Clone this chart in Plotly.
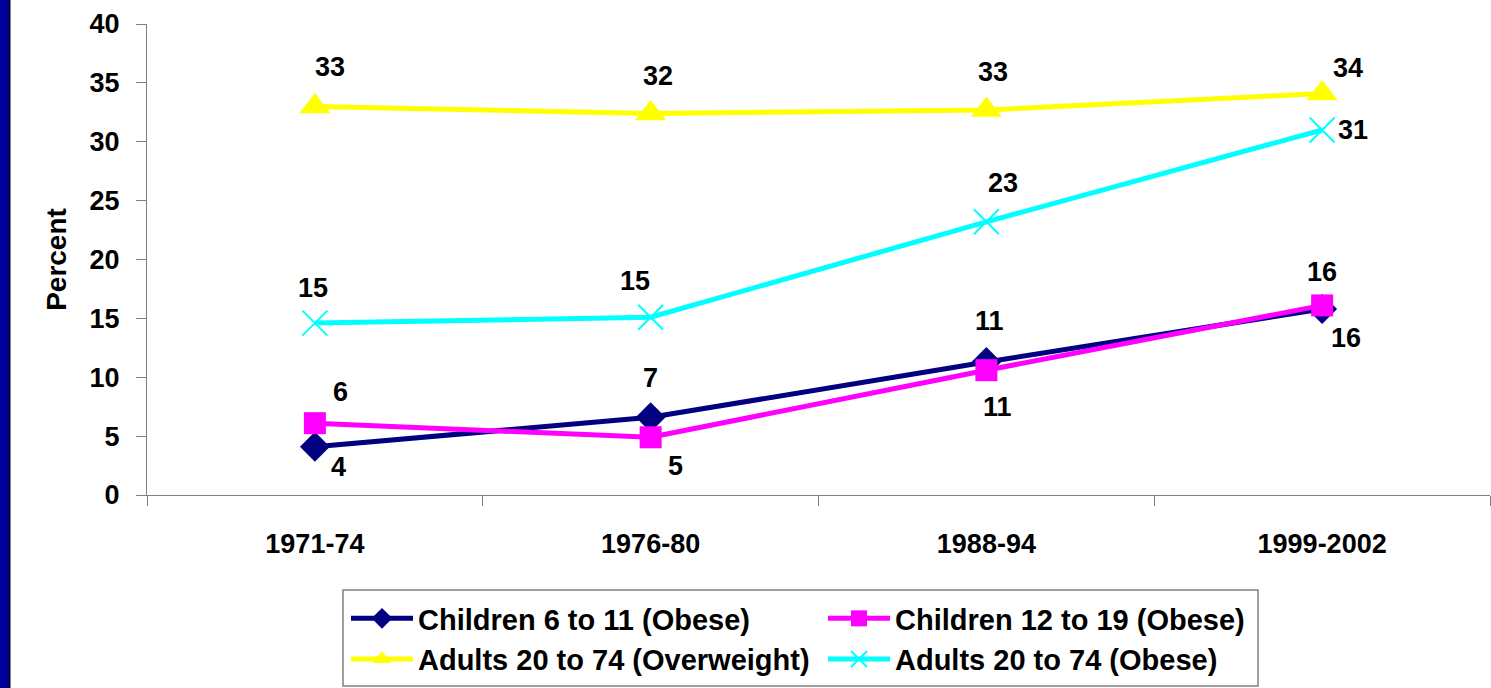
import plotly.graph_objects as go

periods = ["1971-74", "1976-80", "1988-94", "1999-2002"]
children_6_11 = [4.1, 6.6, 11.3, 15.8]
children_12_19 = [6.1, 4.9, 10.6, 16.1]
adults_overweight = [33.0, 32.4, 32.7, 34.1]
adults_obese = [14.6, 15.1, 23.2, 31.0]
series_names = [
    "Children 6 to 11 (Obese)",
    "Children 12 to 19 (Obese)",
    "Adults 20 to 74 (Overweight)",
    "Adults 20 to 74 (Obese)",
]
y_ticks = [0, 5, 10, 15, 20, 25, 30, 35, 40]

FONT = "Liberation Sans, Arial, sans-serif"

styles = [
    dict(color="#000080", symbol="diamond", size=23, lw=5),
    dict(color="#FF00FF", symbol="square", size=22, lw=5),
    dict(color="#FFFF00", symbol="triangle-up", size=27, lw=5),
    dict(color="#00FFFF", symbol="x-thin", size=25, lw=5),
]
# label offsets (px) for each series/point
label_shifts = [
    [(24, -20), (0, 39), (3, 41), (24, -29)],
    [(26, 31), (25, -29), (11, -37), (0, 33)],
    [(15, 39), (7, 37), (7, 38), (26, 25)],
    [(-2, 35), (-16, 36), (17, 39), (31, 0)],
]

all_values = [children_6_11, children_12_19, adults_overweight, adults_obese]

fig = go.Figure()
for name, vals, st in zip(series_names, all_values, styles):
    marker = dict(color=st["color"], symbol=st["symbol"], size=st["size"])
    if st["symbol"] == "x-thin":
        marker["line"] = dict(color=st["color"], width=2)
    fig.add_trace(go.Scatter(
        x=periods, y=vals, name=name, mode="lines+markers",
        line=dict(color=st["color"], width=st["lw"]),
        marker=marker,
    ))

annotations = []
for vals, shifts in zip(all_values, label_shifts):
    for p, v, (dx, dy) in zip(periods, vals, shifts):
        annotations.append(dict(
            x=p, y=v, xref="x", yref="y", text=f"{v:.0f}", showarrow=False,
            xshift=dx, yshift=dy,
            font=dict(family=FONT, size=27, color="black", weight="bold"),
        ))

fig.update_layout(
    width=1491, height=688,
    margin=dict(l=147, r=1, t=24, b=193),
    paper_bgcolor="white", plot_bgcolor="white",
    font=dict(family=FONT, color="black", weight="bold"),
    annotations=annotations,
    showlegend=True,
    legend=dict(
        orientation="h", x=(346 - 147) / 1343, y=(495 - 593) / 471,
        xanchor="left", yanchor="top",
        borderwidth=0, bgcolor="rgba(0,0,0,0)",
        font=dict(family=FONT, size=29, color="black", weight="bold"),
        entrywidth=400, itemwidth=62, tracegroupgap=0,
    ),
    shapes=[
        dict(type="rect", xref="paper", yref="paper",
             xsizemode="pixel", ysizemode="pixel", xanchor=0, yanchor=0,
             x0=-147, x1=-138, y0=-193, y1=495,
             fillcolor="#00009C", line=dict(width=0), layer="above"),
        dict(type="line", xref="paper", yref="paper",
             xsizemode="pixel", ysizemode="pixel", xanchor=0, yanchor=0,
             x0=-137.5, x1=-137.5, y0=-193, y1=495,
             line=dict(color="#000033", width=2)),
        # legend frame
        dict(type="rect", xref="paper", yref="paper",
             xsizemode="pixel", ysizemode="pixel", xanchor=0, yanchor=0,
             x0=196, x1=1111, y0=-191, y1=-95,
             fillcolor="rgba(0,0,0,0)", line=dict(color="#808080", width=1.5)),
    ],
)

fig.update_xaxes(
    type="category", range=[-0.5, 3.5],
    showline=True, linecolor="#808080", linewidth=1,
    ticks="outside", tickson="boundaries", ticklen=10, tickcolor="#808080",
    ticklabelstandoff=25,
    tickfont=dict(family=FONT, size=27, color="black", weight="bold"),
    showgrid=False, zeroline=False,
)
fig.update_yaxes(
    range=[0, 40], tickvals=y_ticks,
    showline=True, linecolor="#808080", linewidth=1,
    ticks="outside", ticklen=10, tickcolor="#808080",
    ticklabelstandoff=11,
    tickfont=dict(family=FONT, size=27, color="black", weight="bold"),
    showgrid=False, zeroline=False,
    title=dict(text="Percent", standoff=14,
               font=dict(family=FONT, size=28, color="black", weight="bold")),
)

fig.write_html("out.html", config={"displayModeBar": False},
               post_script="document.body.style.margin='0';")
